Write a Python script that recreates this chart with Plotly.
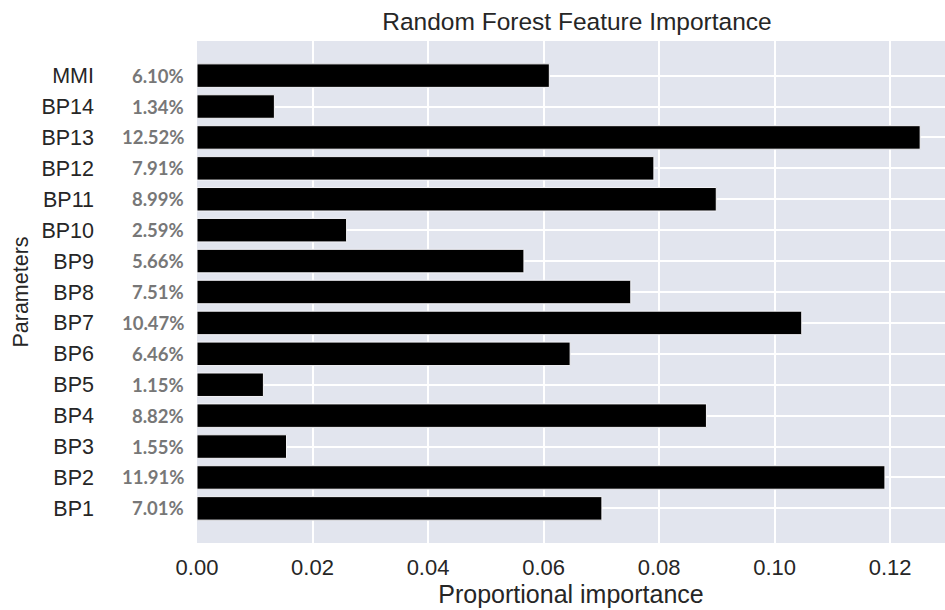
import plotly.graph_objects as go

categories = ["BP1", "BP2", "BP3", "BP4", "BP5", "BP6", "BP7", "BP8",
              "BP9", "BP10", "BP11", "BP12", "BP13", "BP14", "MMI"]
importance = [0.0701, 0.1191, 0.0155, 0.0882, 0.0115, 0.0646, 0.1047, 0.0751,
              0.0566, 0.0259, 0.0899, 0.0791, 0.1252, 0.0134, 0.0610]
x_ticks = [0.00, 0.02, 0.04, 0.06, 0.08, 0.10, 0.12]
x_tick_labels = ["0.00", "0.02", "0.04", "0.06", "0.08", "0.10", "0.12"]

W, H = 945, 610

fig = go.Figure()
fig.add_trace(go.Bar(
    x=importance, y=categories, orientation="h",
    marker=dict(color="black", line=dict(color="#f4f4f8", width=1)),
    width=0.76,
    hoverinfo="skip",
))

for cat, v in zip(categories, importance):
    fig.add_annotation(
        x=0, xref="paper", y=cat, yref="y",
        text=f"<b>{v*100:.2f}%</b>", showarrow=False,
        xanchor="right", yanchor="middle", xshift=-11,
        font=dict(family="Lato", size=18.5, color="#777777"),
    )

fig.update_layout(
    width=W, height=H,
    margin=dict(l=197, r=0, t=41, b=67),
    paper_bgcolor="white", plot_bgcolor="#e2e5ee",
    showlegend=False,
    title=dict(text="Random Forest Feature Importance", x=577 / W, xanchor="center",
               y=1 - 21 / H, yanchor="middle",
               font=dict(family="Liberation Sans", size=24.5, color="#262626")),
    font=dict(family="Liberation Sans", color="#262626"),
)
fig.update_xaxes(
    range=[0, 0.1295], tickvals=x_ticks, ticktext=x_tick_labels,
    showgrid=True, gridcolor="white", gridwidth=1.5, zeroline=False,
    showline=False, ticks="", automargin=False, ticklabelstandoff=9,
    tickfont=dict(family="Liberation Sans", size=22, color="#262626"),
    title=dict(text="Proportional importance", standoff=3,
               font=dict(family="Liberation Sans", size=25, color="#262626")),
)
fig.update_yaxes(
    categoryorder="array", categoryarray=categories,
    range=[-1.12, 15.12],
    showgrid=True, gridcolor="white", gridwidth=1.5, zeroline=False,
    showline=False, ticks="", ticklabelstandoff=102, automargin=False,
    tickfont=dict(family="Liberation Sans", size=21.5, color="#262626"),
    title=dict(text="Parameters", standoff=6,
               font=dict(family="Liberation Sans", size=21.5, color="#262626")),
)

fig.write_html("out.html",
               config={"displayModeBar": False},
               post_script="document.body.style.margin='0';document.body.style.overflow='hidden';")
